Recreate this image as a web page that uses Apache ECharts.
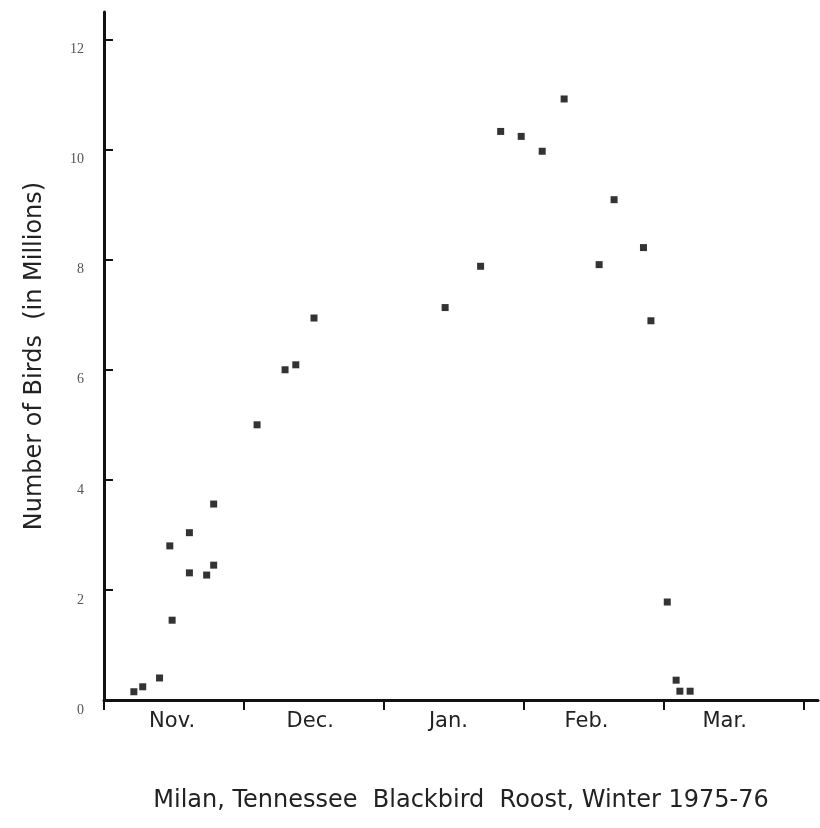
<!DOCTYPE html>
<html lang="en">
<head>
	<meta charset="UTF-8">
	<title>Milan Blackbird Roost</title>
	<style>
		html, body { margin: 0; padding: 0; background: #fff; }
	</style>
</head>
<body>
	<div id="main" style="width: 820px;height: 828px"></div>
	<script src="https://cdn.jsdelivr.net/npm/echarts@6/dist/echarts.min.js"></script>
	<script>
		// days counted from Nov. 1 (30 days per month tick on the drawing)
		var dayOfWinter = [6.4, 8.3, 11.9, 14.1, 14.6, 18.3, 18.3, 22.0, 23.5, 23.5,
			32.8, 38.8, 41.1, 45.0, 73.1, 80.7, 85.0, 89.4, 93.9, 98.6,
			106.1, 109.3, 115.6, 117.2, 120.7, 122.6, 123.4, 125.6]
		// birds in millions
		var birdsMillions = [0.15, 0.24, 0.40, 2.80, 1.45, 3.04, 2.31, 2.27, 2.45, 3.56,
			5.00, 6.00, 6.09, 6.94, 7.13, 7.88, 10.33, 10.24, 9.97, 10.92,
			7.91, 9.09, 8.22, 6.89, 1.78, 0.36, 0.16, 0.16]

		var monthNames = ['Nov.', 'Dec.', 'Jan.', 'Feb.', 'Mar.']
		var monthTicks = [0, 30, 60, 90, 120, 150]
		var yTicks = [0, 2, 4, 6, 8, 10, 12]

		var points = dayOfWinter.map(function (d, i) { return [d, birdsMillions[i]] })
		// month names sit a bit left of the middle of each month
		var monthLabelPos = monthNames.map(function (m, i) { return 14.6 + i * 29.6 })

		var myChart = echarts.init(document.getElementById('main'));
		var option = {
			backgroundColor: '#fff',
			animation: false,
			grid: { left: 104, top: 12, width: 714, height: 688 },
			xAxis: {
				type: 'value',
				min: 0,
				max: 153,
				name: 'Milan, Tennessee  Blackbird  Roost, Winter 1975-76',
				nameLocation: 'middle',
				nameGap: 89,
				nameTextStyle: { fontFamily: 'DejaVu Sans', fontSize: 24, color: '#222' },
				splitLine: { show: false },
				axisLine: { lineStyle: { color: '#111', width: 3 } },
				axisTick: {
					customValues: monthTicks,
					length: 10,
					lineStyle: { color: '#111', width: 2 }
				},
				axisLabel: {
					customValues: monthLabelPos,
					margin: 11,
					fontFamily: 'DejaVu Sans',
					fontSize: 21,
					color: '#222',
					formatter: function (v) {
						var i = monthLabelPos.indexOf(v)
						return i >= 0 ? monthNames[i] : ''
					}
				}
			},
			yAxis: {
				type: 'value',
				min: 0,
				max: 12.5,
				name: 'Number of Birds  (in Millions)',
				nameLocation: 'middle',
				nameGap: 57,
				nameTextStyle: { fontFamily: 'DejaVu Sans', fontSize: 24, color: '#222' },
				splitLine: { show: false },
				axisLine: { lineStyle: { color: '#111', width: 3 } },
				axisTick: {
					customValues: yTicks,
					inside: true,
					length: 9,
					lineStyle: { color: '#111', width: 2 }
				},
				axisLabel: {
					customValues: yTicks,
					margin: 20,
					verticalAlign: 'top',
					padding: [3, 0, 0, 0],
					fontFamily: 'Liberation Serif',
					fontSize: 14,
					color: '#555'
				}
			},
			series: [{
				name: 'birds',
				type: 'scatter',
				symbol: 'rect',
				symbolSize: 7,
				itemStyle: { color: '#000' },
				data: points
			}]
		};
		myChart.setOption(option);
	</script>
</body>
</html>
